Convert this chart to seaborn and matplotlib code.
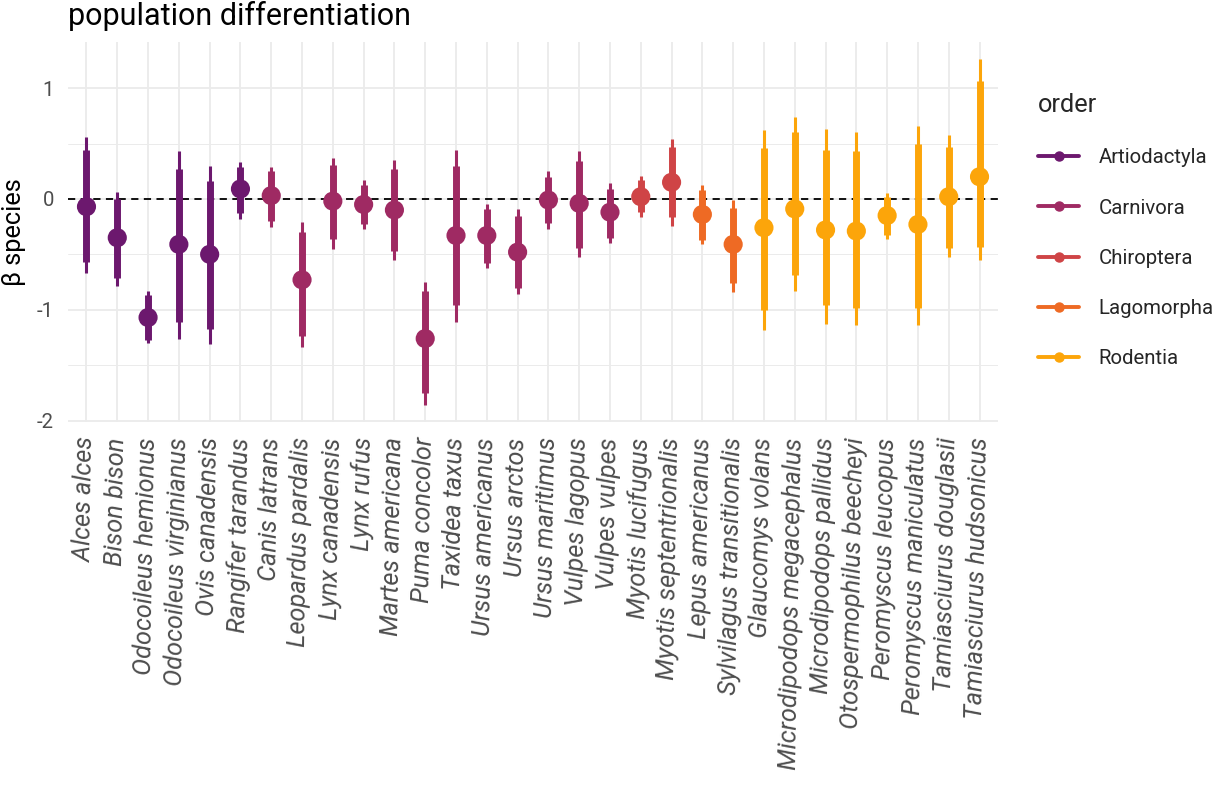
import matplotlib
matplotlib.use("Agg")
import matplotlib.pyplot as plt
from matplotlib.lines import Line2D
import seaborn as sns
import pandas as pd

# -------------------- DATA --------------------
species = [
    "Alces alces", "Bison bison", "Odocoileus hemionus", "Odocoileus virginianus",
    "Ovis canadensis", "Rangifer tarandus", "Canis latrans", "Leopardus pardalis",
    "Lynx canadensis", "Lynx rufus", "Martes americana", "Puma concolor",
    "Taxidea taxus", "Ursus americanus", "Ursus arctos", "Ursus maritimus",
    "Vulpes lagopus", "Vulpes vulpes", "Myotis lucifugus", "Myotis septentrionalis",
    "Lepus americanus", "Sylvilagus transitionalis", "Glaucomys volans",
    "Microdipodops megacephalus", "Microdipodops pallidus", "Otospermophilus beecheyi",
    "Peromyscus leucopus", "Peromyscus maniculatus", "Tamiasciurus douglasii",
    "Tamiasciurus hudsonicus",
]
order = (["Artiodactyla"] * 6 + ["Carnivora"] * 12 + ["Chiroptera"] * 2
         + ["Lagomorpha"] * 2 + ["Rodentia"] * 8)

estimate = [-0.07, -0.35, -1.07, -0.41, -0.50, 0.09, 0.03, -0.73, -0.02, -0.05,
            -0.10, -1.26, -0.33, -0.33, -0.48, -0.01, -0.04, -0.12, 0.02, 0.15,
            -0.14, -0.41, -0.26, -0.09, -0.28, -0.29, -0.15, -0.23, 0.02, 0.20]
inner_lo = [-0.57, -0.71, -1.27, -1.11, -1.17, -0.13, -0.20, -1.24, -0.36, -0.23,
            -0.47, -1.75, -0.96, -0.58, -0.80, -0.22, -0.44, -0.35, -0.12, -0.16,
            -0.37, -0.76, -1.00, -0.69, -0.96, -0.98, -0.33, -0.98, -0.44, -0.43]
inner_hi = [0.44, 0.00, -0.87, 0.27, 0.16, 0.29, 0.25, -0.30, 0.31, 0.13,
            0.27, -0.83, 0.30, -0.09, -0.15, 0.20, 0.34, 0.09, 0.17, 0.47,
            0.08, -0.08, 0.46, 0.60, 0.44, 0.43, 0.02, 0.50, 0.47, 1.06]
outer_lo = [-0.67, -0.79, -1.30, -1.26, -1.31, -0.18, -0.25, -1.34, -0.45, -0.27,
            -0.55, -1.86, -1.11, -0.62, -0.86, -0.27, -0.52, -0.40, -0.16, -0.24,
            -0.41, -0.84, -1.18, -0.83, -1.13, -1.14, -0.36, -1.14, -0.52, -0.55]
outer_hi = [0.56, 0.06, -0.83, 0.43, 0.30, 0.33, 0.29, -0.21, 0.37, 0.17,
            0.35, -0.75, 0.44, -0.05, -0.09, 0.25, 0.43, 0.14, 0.21, 0.54,
            0.13, -0.01, 0.62, 0.74, 0.63, 0.60, 0.05, 0.66, 0.58, 1.26]

orders = ["Artiodactyla", "Carnivora", "Chiroptera", "Lagomorpha", "Rodentia"]
order_colors = ["#6c186e", "#9f2a63", "#cf4446", "#ee6a24", "#fca50a"]

df = pd.DataFrame({
    "species": species, "order": order, "estimate": estimate,
    "inner_lo": inner_lo, "inner_hi": inner_hi,
    "outer_lo": outer_lo, "outer_hi": outer_hi,
})
palette = dict(zip(orders, order_colors))

# -------------------- PLOT --------------------
sns.set_theme(style="white")
plt.rcParams["font.family"] = ["Roboto", "DejaVu Sans"]

fig = plt.figure(figsize=(12.22, 7.85), dpi=100)
ax = fig.add_axes([68 / 1222, 1 - 422 / 785, 930 / 1222, 380 / 785])

grid_col = "#ebebeb"
for v in [-1.5, -0.5, 0.5]:
    ax.axhline(v, color=grid_col, lw=0.7, zorder=0)
for v in [-2, -1, 0, 1]:
    ax.axhline(v, color=grid_col, lw=1.3, zorder=0)
for i in range(len(species)):
    ax.axvline(i, color=grid_col, lw=1.3, zorder=0)

ax.axhline(0, color="black", lw=1.3, ls=(0, (4, 3)), zorder=1)

cols = df["order"].map(palette)
xs = range(len(df))
ax.vlines(xs, df["outer_lo"], df["outer_hi"], colors=cols, lw=2.2, zorder=2)
ax.vlines(xs, df["inner_lo"], df["inner_hi"], colors=cols, lw=5, zorder=3)
sns.scatterplot(data=df, x="species", y="estimate", hue="order", palette=palette,
                s=190, linewidth=0, legend=False, ax=ax, zorder=4)

ax.set_xlim(-0.6, len(species) - 0.4)
ax.set_ylim(-2.013, 1.416)
ax.set_yticks([-2, -1, 0, 1])
ax.set_yticklabels(["-2", "-1", "0", "1"])
for s in ax.spines.values():
    s.set_visible(False)
ax.tick_params(axis="both", length=0, colors="#4d4d4d")
ax.tick_params(axis="y", labelsize=14.7, pad=10)
ax.tick_params(axis="x", pad=11)
ax.set_xticks(list(xs))
ax.set_xticklabels(species, rotation=89, ha="right", va="center",
                   rotation_mode="anchor", fontsize=18.3, style="italic",
                   color="#4d4d4d")
ax.set_xlabel("")
ax.set_ylabel("β species", fontsize=18.3, color="black", labelpad=8)
ax.set_title("population differentiation", loc="left", fontsize=22,
             color="black", pad=12)

handles = [Line2D([0], [0], color=c, lw=2.8, marker="o", markersize=6.5)
           for c in order_colors]
leg = fig.legend(handles, orders, loc="upper left",
                 bbox_to_anchor=(1030 / 1222, 1 - 85 / 785), frameon=False,
                 title="order", fontsize=14.7, title_fontsize=18.3,
                 handlelength=2.0, handletextpad=0.95, labelspacing=1.53,
                 borderaxespad=0)
leg._legend_box.align = "left"

fig.savefig("out.png", dpi=100)
